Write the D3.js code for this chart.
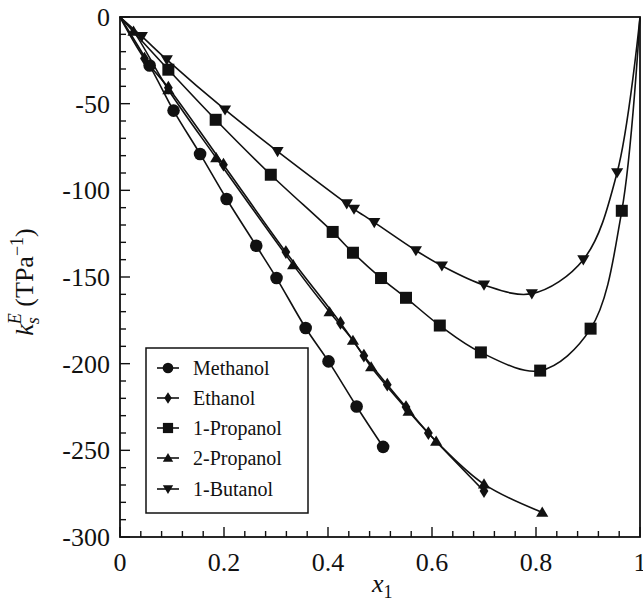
<!DOCTYPE html>
<html>
<head>
<meta charset="utf-8">
<script src="https://cdn.jsdelivr.net/npm/d3@7"></script>
<style>
  body { margin: 0; background: #fff; }
  text { font-family: "Liberation Serif", "DejaVu Serif", serif; }
</style>
</head>
<body>
<div id="container"></div>
<script>
// values: x1 (mole fraction) and ksE (TPa^-1)
var methanolX = [0.057, 0.103, 0.154, 0.205, 0.262, 0.301, 0.357, 0.401, 0.455, 0.506]
var methanolY = [-28, -54, -79, -105, -132, -150.6, -179.4, -198.7, -224.7, -248]

var ethanolX = [0.047, 0.093, 0.199, 0.319, 0.424, 0.469, 0.514, 0.55, 0.593, 0.70]
var ethanolY = [-24, -40.8, -85.2, -135.6, -176.5, -195.4, -212.1, -225, -240, -273.5]

var propanol1X = [0.093, 0.184, 0.290, 0.409, 0.448, 0.502, 0.550, 0.615, 0.694, 0.808, 0.905, 0.965]
var propanol1Y = [-30.4, -59.3, -91, -124, -136, -150.6, -162, -178, -193.5, -204, -179.8, -111.8]

var propanol2X = [0.026, 0.093, 0.185, 0.333, 0.403, 0.448, 0.483, 0.555, 0.608, 0.70, 0.812]
var propanol2Y = [-8.3, -42, -81.3, -143, -170.2, -186.6, -201.9, -227.5, -244.8, -269.5, -285.8]

var butanolX = [0.042, 0.090, 0.202, 0.303, 0.436, 0.450, 0.489, 0.569, 0.619, 0.700, 0.792, 0.891, 0.956]
var butanolY = [-11.2, -24.6, -53.5, -77.5, -107.7, -110.8, -118.5, -134.7, -143.5, -154.6, -159.6, -140, -89.7]

var seriesNames = ['Methanol', 'Ethanol', '1-Propanol', '2-Propanol', '1-Butanol']
var xTickLabels = ['0', '0.2', '0.4', '0.6', '0.8', '1']
var yTickLabels = ['0', '-50', '-100', '-150', '-200', '-250', '-300']

var width = 643, height = 603
var plot = {left: 120, right: 640, top: 17, bottom: 537}
var serif = '"Liberation Serif", "DejaVu Serif", serif'

var x = d3.scaleLinear().domain([0, 1]).range([plot.left, plot.right])
var y = d3.scaleLinear().domain([-300, 0]).range([plot.bottom, plot.top])

var svg = d3.select('#container').append('svg')
    .attr('width', width)
    .attr('height', height)
    .attr('font-family', serif)

function zip(xs, ys) {
    return xs.map(function (v, i) { return [v, ys[i]] })
}

// line runs from the pure-component origin; the two that turn back end at x1 = 1
var series = [
    {name: seriesNames[0], pts: zip(methanolX, methanolY), sym: 'circle', closeEnd: false},
    {name: seriesNames[1], pts: zip(ethanolX, ethanolY), sym: 'diamond', closeEnd: false},
    {name: seriesNames[2], pts: zip(propanol1X, propanol1Y), sym: 'square', closeEnd: true},
    {name: seriesNames[3], pts: zip(propanol2X, propanol2Y), sym: 'up', closeEnd: false},
    {name: seriesNames[4], pts: zip(butanolX, butanolY), sym: 'down', closeEnd: true}
]

var line = d3.line()
    .x(function (d) { return x(d[0]) })
    .y(function (d) { return y(d[1]) })
    .curve(d3.curveCatmullRom.alpha(0.5))

function symbolPath(sym, s) {
    // s ~ half size in px
    if (sym === 'circle') return d3.symbol().type(d3.symbolCircle).size(Math.PI * s * s)()
    if (sym === 'square') return 'M' + (-s) + ',' + (-s) + 'H' + s + 'V' + s + 'H' + (-s) + 'Z'
    if (sym === 'diamond') return 'M0,' + (-s * 1.25) + 'L' + (s * 0.8) + ',0L0,' + (s * 1.25) + 'L' + (-s * 0.8) + ',0Z'
    if (sym === 'up') return 'M0,' + (-s) + 'L' + (s * 1.05) + ',' + (s * 0.75) + 'L' + (-s * 1.05) + ',' + (s * 0.75) + 'Z'
    if (sym === 'down') return 'M0,' + s + 'L' + (s * 1.05) + ',' + (-s * 0.75) + 'L' + (-s * 1.05) + ',' + (-s * 0.75) + 'Z'
}
var symSize = {circle: 6.3, square: 6, diamond: 5.5, up: 5.8, down: 5.8}

var g = svg.append('g')

series.forEach(function (s) {
    var pts = [[0, 0]].concat(s.pts)
    if (s.closeEnd) pts.push([1, 0])
    g.append('path')
        .attr('d', line(pts))
        .attr('fill', 'none')
        .attr('stroke', '#111')
        .attr('stroke-width', 1.6)
    g.selectAll(null)
        .data(s.pts)
        .enter().append('path')
        .attr('transform', function (d) { return 'translate(' + x(d[0]) + ',' + y(d[1]) + ')' })
        .attr('d', symbolPath(s.sym, symSize[s.sym]))
        .attr('fill', '#111')
})

// frame
svg.append('rect')
    .attr('x', plot.left).attr('y', plot.top)
    .attr('width', plot.right - plot.left).attr('height', plot.bottom - plot.top)
    .attr('fill', 'none').attr('stroke', '#111').attr('stroke-width', 1.8)

// x ticks (inward), minor every 0.04
var xMinor = d3.range(0, 1.0001, 0.04)
svg.selectAll(null).data(xMinor).enter().append('line')
    .attr('x1', function (d) { return x(d) }).attr('x2', function (d) { return x(d) })
    .attr('y1', plot.bottom).attr('y2', function (d, i) { return plot.bottom - (i % 5 === 0 ? 10 : 6) })
    .attr('stroke', '#111').attr('stroke-width', 1.4)

svg.selectAll(null).data(xTickLabels).enter().append('text')
    .attr('x', function (d) { return x(+d) })
    .attr('y', 571)
    .attr('text-anchor', 'middle')
    .attr('font-family', serif)
    .attr('font-size', 26)
    .attr('fill', '#111')
    .text(function (d) { return d })

// y ticks (inward), minor every 10
var yMinor = d3.range(0, -300.001, -10)
svg.selectAll(null).data(yMinor).enter().append('line')
    .attr('y1', function (d) { return y(d) }).attr('y2', function (d) { return y(d) })
    .attr('x1', plot.left).attr('x2', function (d, i) { return plot.left + (i % 5 === 0 ? 10 : 6) })
    .attr('stroke', '#111').attr('stroke-width', 1.4)

svg.selectAll(null).data(yTickLabels).enter().append('text')
    .attr('x', 110)
    .attr('y', function (d) { return y(+d) + 9 })
    .attr('text-anchor', 'end')
    .attr('font-family', serif)
    .attr('font-size', 26)
    .attr('fill', '#111')
    .text(function (d) { return d })

// axis titles
var xt = svg.append('text').attr('x', 372).attr('y', 592)
    .attr('font-family', serif).attr('font-size', 26).attr('fill', '#111')
xt.append('tspan').attr('font-style', 'italic').text('x')
xt.append('tspan').attr('font-size', 18).attr('dy', 6).text('1')

var yt = svg.append('text')
    .attr('transform', 'translate(33,282) rotate(-90)')
    .attr('text-anchor', 'middle')
    .attr('font-family', serif)
    .attr('font-size', 26)
    .attr('fill', '#111')
yt.append('tspan').attr('font-style', 'italic').text('k')
yt.append('tspan').attr('font-style', 'italic').attr('font-size', 18).attr('dy', 6).text('s')
yt.append('tspan').attr('font-style', 'italic').attr('font-size', 18).attr('dx', -7).attr('dy', -18).text('E')
yt.append('tspan').attr('dy', 12).text(' (TPa')
yt.append('tspan').attr('font-size', 18).attr('dy', -10).text('\u22121')
yt.append('tspan').attr('dy', 10).text(')')

// legend
var legend = svg.append('g')
legend.append('rect')
    .attr('x', 146).attr('y', 348).attr('width', 162).attr('height', 165)
    .attr('fill', '#fff').attr('stroke', '#111').attr('stroke-width', 1.5)
var legendY = [368, 398, 428, 458, 489]
series.forEach(function (s, i) {
    var ly = legendY[i]
    legend.append('line')
        .attr('x1', 157).attr('x2', 179).attr('y1', ly).attr('y2', ly)
        .attr('stroke', '#111').attr('stroke-width', 1.6)
    legend.append('path')
        .attr('transform', 'translate(168,' + ly + ')')
        .attr('d', symbolPath(s.sym, symSize[s.sym] * 0.85))
        .attr('fill', '#111')
    legend.append('text')
        .attr('x', 193).attr('y', ly + 7)
        .attr('font-family', serif)
        .attr('font-size', 20)
        .attr('fill', '#111')
        .text(s.name)
})
</script>
</body>
</html>
